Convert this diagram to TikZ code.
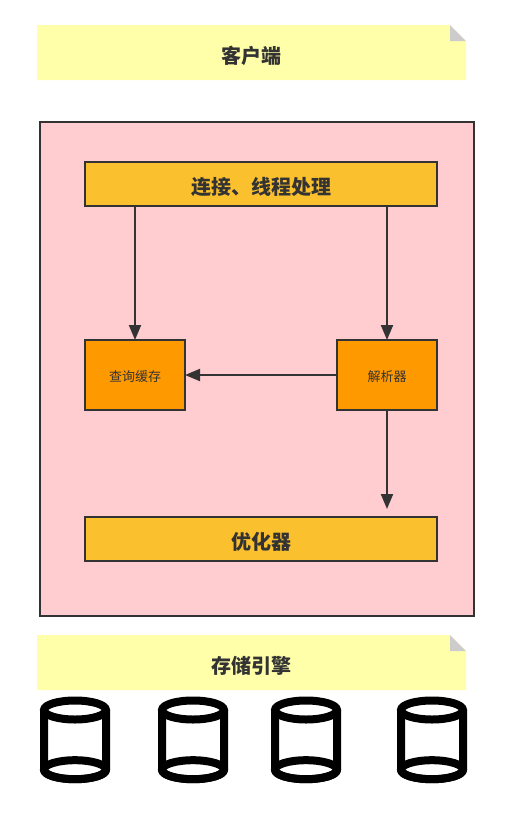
\documentclass[tikz,border=0pt]{standalone}
\usepackage{fontspec}
\newfontfamily\cjk{Noto Sans CJK SC}
\usetikzlibrary{arrows.meta}
\definecolor{inkgray}{HTML}{333333}
\definecolor{notefill}{HTML}{FFFFAA}
\definecolor{foldfill}{HTML}{CCCCCC}
\definecolor{serverfill}{HTML}{FFCCD0}
\definecolor{layerfill}{HTML}{FBC02D}
\definecolor{stagefill}{HTML}{FF9900}
\tikzset{
    boxbase/.style={ % shared outline of the boxes
        draw=inkgray,
        line width=2pt,
        shape=rectangle,
        inner sep=0pt,
        outer sep=0pt,
        text=inkgray
    },
    serverbox/.style={
        boxbase,
        fill=serverfill,
        minimum width=434pt,
        minimum height=494pt
    },
    layerbox/.style={ % wide bars with bold title
        boxbase,
        fill=layerfill,
        minimum width=352pt,
        minimum height=44pt,
        text height=21pt,
        text depth=0pt,
        font=\cjk\bfseries\fontsize{20}{24}\selectfont
    },
    stagebox/.style={ % small square steps
        boxbase,
        fill=stagefill,
        minimum width=100pt,
        minimum height=70pt,
        text height=12pt,
        text depth=0pt,
        font=\cjk\fontsize{13}{16}\selectfont
    },
    notetext/.style={
        text=inkgray,
        inner sep=0pt,
        font=\cjk\bfseries\fontsize{20}{24}\selectfont
    },
    flow/.style={
        draw=inkgray,
        line width=2pt,
        -{Triangle[length=15pt,width=12pt]}
    },
    notepaper/.pic={ % note with folded corner
        \fill[notefill] (0,0) -- (413,0) -- (429,16) -- (429,55) -- (0,55) -- cycle;
        \fill[foldfill] (413,0) -- (429,16) -- (413,16) -- cycle;
    },
    drum/.pic={ % database cylinder
        \draw[line width=8pt,line join=round] (-31,13) -- (-31,72.7) arc[start angle=180,end angle=360,x radius=31,y radius=-9.5] -- (31,13);
        \draw[line width=8pt] (0,13) ellipse[x radius=31,y radius=9.5];
        \draw[line width=8pt] (0,72.7) ellipse[x radius=31,y radius=9.5];
    }
}
\begin{document}
\begin{tikzpicture}[x=1pt,y=-1pt]
        \useasboundingbox (0,0) rectangle (507,815);

        \pic at (37,25) {notepaper};
        \node [notetext] (client) at (251.5,56) {客户端};

        \node [serverbox] (server) at (257,369) {};

        \node [layerbox] (conn) at (261,184) {连接、线程处理};
        \node [stagebox] (cache) at (135,375) {查询缓存};
        \node [stagebox] (parser) at (387,375) {解析器};
        \node [layerbox] (optimizer) at (261,539) {优化器};
        \coordinate (parserend) at (387,509);

        \draw [flow] (conn.south -| cache) -- (cache);
        \draw [flow] (conn.south -| parser) -- (parser);
        \draw [flow] (parser) -- (cache);
        \draw [flow] (parser) -- (parserend);

        \pic at (37,635) {notepaper};
        \node [notetext] (engine) at (251.5,666) {存储引擎};

        \foreach \x in {75,193,306,432}
                \pic at (\x,697) {drum};

\end{tikzpicture}
\end{document}
